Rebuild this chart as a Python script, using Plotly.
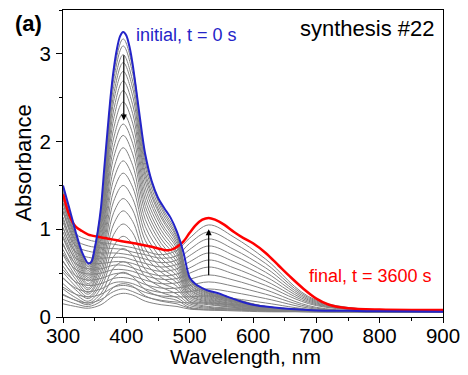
import plotly.graph_objects as go

# ---------------- data ----------------
x_ticks = [300, 400, 500, 600, 700, 800, 900]
y_ticks = [0, 1, 2, 3]

wl_initial = [300, 310, 320, 330, 340, 345, 350, 355, 360, 365, 370, 375, 380, 385, 390, 395,
              400, 405, 410, 415, 420, 425, 430, 440, 450, 460, 470, 480, 490, 500, 510, 520,
              530, 545, 560, 580, 600, 630, 660, 700, 750, 800, 900]
abs_initial = [1.50, 1.24, 0.97, 0.74, 0.61, 0.63, 0.78, 0.98, 1.25, 1.68, 2.10, 2.50, 2.82, 3.05, 3.20, 3.25,
               3.21, 3.08, 2.88, 2.62, 2.35, 2.08, 1.85, 1.55, 1.36, 1.24, 1.13, 0.97, 0.74, 0.45, 0.37, 0.33,
               0.30, 0.27, 0.23, 0.18, 0.14, 0.11, 0.09, 0.075, 0.07, 0.065, 0.06]

wl_final = [300, 310, 320, 330, 340, 355, 370, 385, 400, 420, 440, 460, 470, 480, 490, 500, 510,
            520, 530, 540, 555, 570, 585, 600, 620, 640, 660, 680, 700, 720, 750, 800, 850, 900]
abs_final = [1.40, 1.16, 1.03, 0.98, 0.94, 0.915, 0.895, 0.875, 0.855, 0.83, 0.80, 0.765, 0.765, 0.80, 0.86, 0.96, 1.05,
             1.11, 1.13, 1.11, 1.05, 0.97, 0.90, 0.84, 0.73, 0.59, 0.45, 0.32, 0.21, 0.14, 0.10, 0.085, 0.08, 0.08]

wl_grid = [300, 320, 340, 360, 380, 395, 410, 430, 455, 480, 500, 530, 570, 620, 700, 900]
gray_spectra = [
    [1.46, 0.95, 0.60, 1.22, 2.78, 3.17, 2.85, 1.81, 1.27, 0.95, 0.44, 0.29, 0.21, 0.12, 0.08, 0.06],
    [1.43, 0.92, 0.58, 1.19, 2.71, 3.09, 2.78, 1.76, 1.24, 0.92, 0.43, 0.29, 0.20, 0.12, 0.08, 0.06],
    [1.38, 0.90, 0.57, 1.15, 2.63, 2.99, 2.69, 1.71, 1.20, 0.90, 0.42, 0.28, 0.20, 0.12, 0.08, 0.06],
    [1.34, 0.87, 0.55, 1.12, 2.54, 2.90, 2.61, 1.65, 1.16, 0.87, 0.41, 0.27, 0.19, 0.11, 0.08, 0.06],
    [1.30, 0.84, 0.53, 1.08, 2.46, 2.80, 2.52, 1.60, 1.13, 0.84, 0.40, 0.27, 0.19, 0.11, 0.08, 0.06],
    [1.25, 0.81, 0.51, 1.04, 2.36, 2.69, 2.42, 1.54, 1.08, 0.81, 0.38, 0.26, 0.18, 0.11, 0.08, 0.06],
    [1.20, 0.78, 0.49, 1.00, 2.26, 2.58, 2.32, 1.47, 1.04, 0.78, 0.37, 0.25, 0.18, 0.11, 0.08, 0.06],
    [1.14, 0.74, 0.47, 0.95, 2.15, 2.45, 2.21, 1.40, 0.99, 0.74, 0.35, 0.24, 0.17, 0.11, 0.08, 0.06],
    [1.08, 0.71, 0.45, 0.90, 2.04, 2.32, 2.09, 1.33, 0.94, 0.71, 0.34, 0.23, 0.17, 0.10, 0.07, 0.06],
    [1.02, 0.67, 0.43, 0.86, 1.93, 2.20, 1.98, 1.26, 0.89, 0.67, 0.32, 0.22, 0.16, 0.10, 0.07, 0.06],
    [0.97, 0.63, 0.41, 0.81, 1.82, 2.07, 1.86, 1.19, 0.84, 0.63, 0.31, 0.21, 0.15, 0.10, 0.07, 0.06],
    [0.90, 0.59, 0.38, 0.76, 1.69, 1.93, 1.73, 1.11, 0.79, 0.59, 0.29, 0.20, 0.15, 0.10, 0.07, 0.06],
    [0.84, 0.55, 0.36, 0.70, 1.57, 1.78, 1.60, 1.03, 0.73, 0.55, 0.27, 0.19, 0.14, 0.09, 0.07, 0.06],
    [0.77, 0.51, 0.33, 0.65, 1.44, 1.64, 1.48, 0.95, 0.67, 0.51, 0.25, 0.18, 0.13, 0.09, 0.07, 0.06],
    [0.71, 0.47, 0.31, 0.60, 1.32, 1.50, 1.35, 0.87, 0.62, 0.47, 0.24, 0.17, 0.13, 0.09, 0.07, 0.06],
    [0.64, 0.43, 0.28, 0.54, 1.19, 1.35, 1.22, 0.78, 0.56, 0.43, 0.22, 0.16, 0.12, 0.08, 0.07, 0.06],
    [0.58, 0.39, 0.26, 0.49, 1.06, 1.21, 1.09, 0.70, 0.51, 0.39, 0.20, 0.15, 0.11, 0.08, 0.07, 0.06],
    [0.51, 0.35, 0.23, 0.43, 0.94, 1.06, 0.96, 0.62, 0.45, 0.35, 0.18, 0.14, 0.11, 0.08, 0.07, 0.06],
    [0.45, 0.31, 0.21, 0.38, 0.81, 0.92, 0.83, 0.54, 0.39, 0.31, 0.17, 0.12, 0.10, 0.08, 0.07, 0.06],
    [0.38, 0.26, 0.18, 0.33, 0.69, 0.78, 0.70, 0.46, 0.34, 0.26, 0.15, 0.11, 0.09, 0.07, 0.06, 0.06],
    [0.32, 0.22, 0.16, 0.27, 0.56, 0.63, 0.57, 0.38, 0.28, 0.22, 0.13, 0.10, 0.09, 0.07, 0.06, 0.06],
    [0.26, 0.19, 0.14, 0.23, 0.45, 0.51, 0.46, 0.31, 0.23, 0.19, 0.11, 0.09, 0.08, 0.07, 0.06, 0.06],
    [0.20, 0.15, 0.12, 0.18, 0.34, 0.38, 0.35, 0.24, 0.18, 0.15, 0.10, 0.08, 0.08, 0.07, 0.06, 0.06],
    [0.15, 0.12, 0.10, 0.14, 0.24, 0.27, 0.25, 0.18, 0.14, 0.12, 0.09, 0.08, 0.07, 0.06, 0.06, 0.06],
    [0.25, 0.19, 0.16, 0.20, 0.29, 0.32, 0.29, 0.23, 0.19, 0.17, 0.16, 0.16, 0.14, 0.11, 0.07, 0.06],
    [0.34, 0.26, 0.23, 0.26, 0.34, 0.36, 0.34, 0.28, 0.24, 0.23, 0.23, 0.24, 0.21, 0.16, 0.08, 0.06],
    [0.44, 0.33, 0.29, 0.32, 0.39, 0.40, 0.38, 0.32, 0.28, 0.28, 0.29, 0.32, 0.28, 0.21, 0.09, 0.06],
    [0.54, 0.40, 0.36, 0.38, 0.44, 0.45, 0.43, 0.37, 0.33, 0.33, 0.36, 0.40, 0.35, 0.26, 0.10, 0.07],
    [0.63, 0.47, 0.42, 0.44, 0.49, 0.50, 0.47, 0.42, 0.38, 0.39, 0.43, 0.48, 0.42, 0.31, 0.11, 0.07],
    [0.73, 0.54, 0.49, 0.50, 0.54, 0.54, 0.52, 0.47, 0.43, 0.44, 0.50, 0.57, 0.49, 0.36, 0.13, 0.07],
    [0.82, 0.61, 0.55, 0.55, 0.59, 0.59, 0.56, 0.51, 0.47, 0.49, 0.56, 0.65, 0.56, 0.41, 0.14, 0.07],
    [0.92, 0.67, 0.62, 0.61, 0.63, 0.63, 0.61, 0.56, 0.52, 0.55, 0.63, 0.73, 0.63, 0.46, 0.15, 0.07],
    [1.02, 0.74, 0.68, 0.67, 0.68, 0.68, 0.65, 0.61, 0.57, 0.60, 0.70, 0.81, 0.70, 0.51, 0.16, 0.07],
    [1.11, 0.81, 0.75, 0.73, 0.73, 0.72, 0.70, 0.66, 0.62, 0.65, 0.77, 0.89, 0.77, 0.56, 0.17, 0.08],
    [1.21, 0.88, 0.81, 0.79, 0.78, 0.77, 0.74, 0.71, 0.67, 0.70, 0.84, 0.97, 0.84, 0.61, 0.18, 0.08],
    [1.30, 0.95, 0.88, 0.85, 0.83, 0.81, 0.79, 0.75, 0.71, 0.76, 0.90, 1.05, 0.91, 0.66, 0.19, 0.08],
]

label_initial = "initial, t = 0 s"
label_final = "final, t = 3600 s"
label_panel = "(a)"
label_sample = "synthesis #22"
label_x = "Wavelength, nm"
label_y = "Absorbance"

# ---------------- styles ----------------
FONT = "Liberation Sans, Arial, sans-serif"
GRAY = "#828282"
BLUE = "#2424c8"
RED = "#ff0000"

fig = go.Figure()

for spec in gray_spectra:
    fig.add_trace(go.Scatter(x=wl_grid, y=spec, mode="lines",
                             line=dict(color=GRAY, width=1, shape="spline", smoothing=1.0),
                             hoverinfo="skip", showlegend=False))

fig.add_trace(go.Scatter(x=wl_final, y=abs_final, mode="lines",
                         line=dict(color=RED, width=2.5, shape="spline", smoothing=0.8),
                         showlegend=False))
fig.add_trace(go.Scatter(x=wl_initial, y=abs_initial, mode="lines",
                         line=dict(color=BLUE, width=2, shape="spline", smoothing=0.8),
                         showlegend=False))

annotations = [
    dict(text="<b>" + label_panel + "</b>", xref="paper", yref="paper", x=-0.092, y=0.955,
         xanchor="center", yanchor="middle", showarrow=False,
         font=dict(family=FONT, size=22, color="black")),
    dict(text=label_sample, xref="paper", yref="paper", x=0.985, y=0.94,
         xanchor="right", yanchor="middle", showarrow=False,
         font=dict(family=FONT, size=22, color="black")),
    dict(text=label_initial, xref="x", yref="y", x=412, y=3.21,
         xanchor="left", yanchor="middle", showarrow=False,
         font=dict(family=FONT, size=18, color=BLUE)),
    dict(text=label_final, xref="x", yref="y", x=685, y=0.47,
         xanchor="left", yanchor="middle", showarrow=False,
         font=dict(family=FONT, size=18, color=RED)),
    dict(text=label_x, xref="paper", yref="paper", x=0.48, y=-0.128,
         xanchor="center", yanchor="middle", showarrow=False,
         font=dict(family=FONT, size=21, color="black")),
    dict(text=label_y, xref="paper", yref="paper", x=-0.105, y=0.5, textangle=-90,
         xanchor="center", yanchor="middle", showarrow=False,
         font=dict(family=FONT, size=22, color="black")),
    dict(text="", xref="x", yref="y", x=396, y=2.24, axref="x", ayref="y", ax=396, ay=3.0,
         showarrow=True, arrowhead=2, arrowsize=1, arrowwidth=1.2, arrowcolor="black"),
    dict(text="", xref="x", yref="y", x=530, y=1.0, axref="x", ayref="y", ax=530, ay=0.46,
         showarrow=True, arrowhead=2, arrowsize=1, arrowwidth=1.2, arrowcolor="black"),
]

# the page body has an 8 px default margin, so the figure is 8 px smaller
# and its left/top margins 8 px narrower to land the plot area where the reference has it
fig.update_layout(
    width=460, height=367,
    margin=dict(l=55, r=25, t=2, b=58, autoexpand=False),
    paper_bgcolor="white", plot_bgcolor="white",
    font=dict(family=FONT, size=20, color="black"),
    showlegend=False,
    annotations=annotations,
)

fig.update_xaxes(range=[300, 900], tickvals=x_ticks, ticks="outside", ticklen=5, tickwidth=1,
                 tickcolor="black", showline=True, linecolor="black", linewidth=1, mirror=True,
                 showgrid=False, zeroline=False, automargin=False, ticklabelstandoff=-5,
                 minor=dict(dtick=50, tick0=300, ticks="outside", ticklen=3, tickcolor="black"),
                 tickfont=dict(family=FONT, size=20.5))
fig.update_yaxes(range=[0, 3.5], tickvals=y_ticks, ticks="outside", ticklen=6, tickwidth=1,
                 tickcolor="black", showline=True, linecolor="black", linewidth=1, mirror=True,
                 showgrid=False, zeroline=False, automargin=False, ticklabelstandoff=1,
                 minor=dict(dtick=0.5, tick0=0, ticks="outside", ticklen=3, tickcolor="black"),
                 tickfont=dict(family=FONT, size=20.5))

fig.write_html("out.html")
